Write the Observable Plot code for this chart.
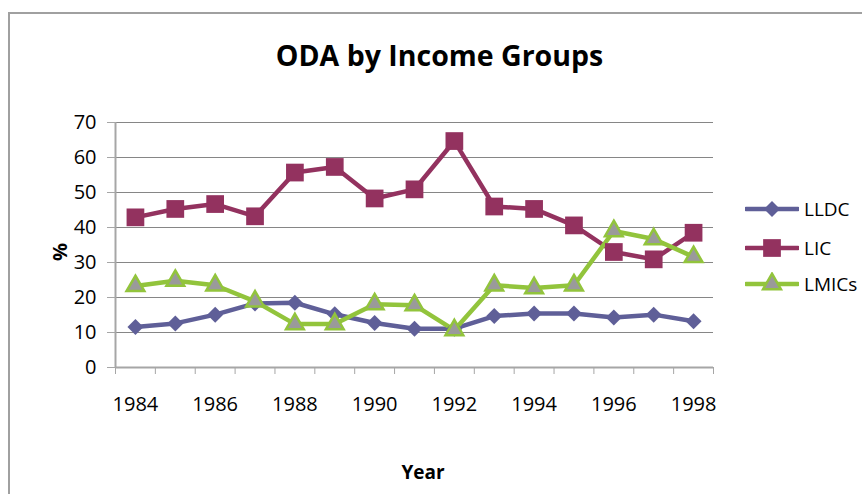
<!DOCTYPE html>
<html>
<head>
<meta charset="utf-8">
<script src="https://cdn.jsdelivr.net/npm/d3@7"></script>
<script src="https://cdn.jsdelivr.net/npm/@observablehq/plot@0.6"></script>
<style>
  html, body { margin: 0; padding: 0; background: #fff; }
  #wrap { position: relative; width: 862px; height: 494px; overflow: hidden; font-family: "Open Sans", sans-serif; color: #000; }
  #wrap svg.plot { position: absolute; left: 0; top: 0; }
  .border { position: absolute; left: 8px; top: 12px; width: 1000px; height: 1000px; border: 2px solid #a0a0a0; box-sizing: border-box; }
  .title { position: absolute; left: 0; width: 879px; top: 35px; line-height: 40px; text-align: center; font-weight: bold; font-size: 28.5px; }
  .xlab { position: absolute; left: 323px; width: 200px; top: 459px; line-height: 26px; text-align: center; font-weight: bold; font-size: 19px; }
  .ylab { position: absolute; left: 60px; top: 252px; transform: translate(-50%, -50%) rotate(-90deg); font-weight: bold; font-size: 20px; line-height: 24px; }
  .leg { position: absolute; left: 745px; height: 24px; display: flex; align-items: center; }
  .leg span { margin-left: 5px; font-size: 19px; line-height: 24px; }
</style>
</head>
<body>
<div id="wrap">
  <div class="border"></div>
  <div class="title">ODA by Income Groups</div>
  <div class="ylab">%</div>
  <div class="xlab">Year</div>
</div>
<script>
const years = [1984, 1985, 1986, 1987, 1988, 1989, 1990, 1991, 1992, 1993, 1994, 1995, 1996, 1997, 1998];
const lldc  = [11.6, 12.6, 15.1, 18.3, 18.5, 15.2, 12.7, 11.1, 11.1, 14.7, 15.4, 15.4, 14.3, 15.1, 13.2];
const lic   = [42.9, 45.3, 46.7, 43.2, 55.7, 57.3, 48.3, 50.9, 64.7, 46.0, 45.3, 40.6, 33.0, 30.9, 38.5];
const lmics = [23.3, 24.8, 23.5, 18.9, 12.4, 12.4, 18.1, 17.8, 10.7, 23.5, 22.7, 23.5, 39.0, 36.7, 31.6];
const seriesNames = ["LLDC", "LIC", "LMICs"];
const yTicks = [0, 10, 20, 30, 40, 50, 60, 70];
const xLabels = [1984, 1986, 1988, 1990, 1992, 1994, 1996, 1998];

const lineColors = ["#5f5f98", "#93325f", "#92c43c"];
const symbols = ["diamond2", "square", "triangle"];
const fills = ["#5f5f98", "#93325f", "#9a9a9a"];
const radii = [7.2, 10, 6.6];

const seriesValues = [lldc, lic, lmics];
const table = seriesNames.map((name, i) => years.map((year, j) => ({series: name, year, value: seriesValues[i][j]})));
const boundaries = [...years.map(y => y - 0.5), years[years.length - 1] + 0.5];

const marks = [
  Plot.gridY(yTicks, {stroke: "#868686", strokeOpacity: 1, strokeWidth: 1}),
  Plot.axisY(yTicks, {tickSize: 8, tickPadding: 11, stroke: "#a6a6a6", fontSize: 20, label: null, tickFormat: d => String(d)}),
  Plot.axisX(boundaries, {tickSize: 7, tickPadding: 0, stroke: "#a6a6a6", tickFormat: () => "", label: null}),
  Plot.axisX(xLabels, {tickSize: 0, tickPadding: 29, fontSize: 20, label: null, tickFormat: d => String(d)}),
  Plot.ruleX([boundaries[0]], {stroke: "#a6a6a6", strokeWidth: 2}),
  Plot.ruleY([0], {stroke: "#a6a6a6", strokeWidth: 2})
];
table.forEach((rows, i) => {
  marks.push(Plot.line(rows, {x: "year", y: "value", stroke: lineColors[i], strokeWidth: 4.5}));
});
table.forEach((rows, i) => {
  marks.push(Plot.dot(rows, {
    x: "year", y: "value", symbol: symbols[i], r: radii[i], fill: fills[i],
    stroke: i === 2 ? lineColors[2] : "none", strokeWidth: i === 2 ? 2.5 : 0
  }));
});

const chart = Plot.plot({
  width: 862, height: 494,
  marginLeft: 115, marginRight: 149, marginTop: 122, marginBottom: 127,
  x: {domain: [boundaries[0], boundaries[boundaries.length - 1]]},
  y: {domain: [0, 70]},
  style: {fontFamily: "Open Sans, sans-serif", fontSize: "20px", color: "#000", background: "transparent", overflow: "visible"},
  marks
});
chart.classList.add("plot");
const wrap = document.getElementById("wrap");
wrap.insertBefore(chart, wrap.children[1]);

// legend
const legendY = [209, 248, 284];
seriesNames.forEach((name, i) => {
  const div = document.createElement("div");
  div.className = "leg";
  div.style.top = (legendY[i] - 12) + "px";
  const svg = d3.create("svg").attr("width", 54).attr("height", 24);
  svg.append("line").attr("x1", 1).attr("x2", 53).attr("y1", 12).attr("y2", 12)
    .attr("stroke", lineColors[i]).attr("stroke-width", 4.5).attr("stroke-linecap", "round");
  const sym = {diamond2: d3.symbolDiamond2, square: d3.symbolSquare, triangle: d3.symbolTriangle}[symbols[i]];
  svg.append("path").attr("transform", "translate(27,12)")
    .attr("d", d3.symbol(sym, Math.PI * radii[i] * radii[i])())
    .attr("fill", fills[i])
    .attr("stroke", i === 2 ? lineColors[2] : "none").attr("stroke-width", i === 2 ? 2.5 : 0);
  div.appendChild(svg.node());
  const span = document.createElement("span");
  span.textContent = name;
  div.appendChild(span);
  wrap.appendChild(div);
});
</script>
</body>
</html>
